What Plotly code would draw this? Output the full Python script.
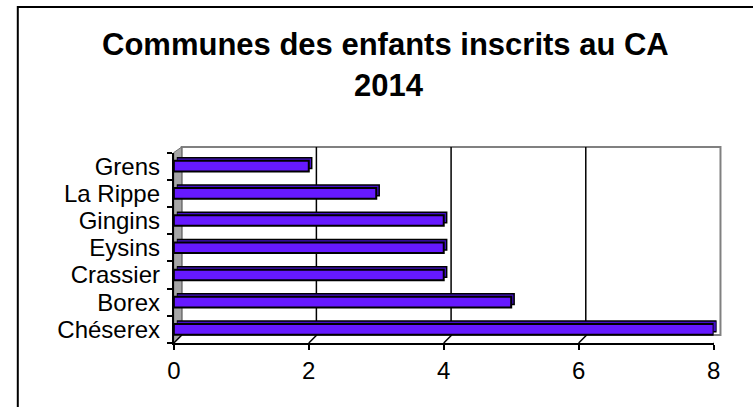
import plotly.graph_objects as go

# ---- data (bottom to top) ----
communes = ["Chéserex", "Borex", "Crassier", "Eysins", "Gingins", "La Rippe", "Grens"]
inscrits = [8, 5, 4, 4, 4, 3, 2]
x_ticks = [0, 2, 4, 6, 8]
grid_vals = [2, 4, 6]
title_line1 = "Communes des enfants inscrits au CA"
title_line2 = "2014"

W, H = 753, 407
FONT = "Arial, 'Liberation Sans', sans-serif"
BAR = "#6619FF"
DEPTH = "#4410C8"


def pxx(x):
    return x / W


def pxy(y):
    return 1 - y / H


# front plane (bars + axes)
FX0, FX1, FYT, FYB = 170, 720, 152.5, 343
# bar depth plane
D = 3
# back wall plane
BX0, BX1, BYT, BYB = 178, 727, 147, 335
BAR_W = 0.39

fig = go.Figure()

# depth faces of bars (offset subplot)
fig.add_trace(go.Bar(
    y=communes, x=inscrits, orientation="h", width=BAR_W,
    marker=dict(color=DEPTH, line=dict(color="black", width=1.5)),
    xaxis="x2", yaxis="y2", hoverinfo="skip", showlegend=False))

# front faces
fig.add_trace(go.Bar(
    y=communes, x=inscrits, orientation="h", width=BAR_W,
    marker=dict(color=BAR, line=dict(color="black", width=2)),
    xaxis="x3", yaxis="y3", showlegend=False))

shapes = []
# outer chart border
shapes.append(dict(type="rect", xref="paper", yref="paper",
                   x0=pxx(11), x1=pxx(W + 10), y0=pxy(7), y1=pxy(H + 10),
                   line=dict(color="black", width=2), layer="below"))
# back wall
shapes.append(dict(type="rect", xref="paper", yref="paper",
                   x0=pxx(BX0), x1=pxx(BX1), y0=pxy(BYT), y1=pxy(BYB),
                   line=dict(color="#808080", width=2), layer="below"))
# back wall grid lines (through the back x axis)
for v in grid_vals:
    shapes.append(dict(type="line", xref="x", yref="paper",
                       x0=v, x1=v, y0=pxy(BYB), y1=pxy(BYT),
                       line=dict(color="black", width=1.5), layer="below"))
# left wall
path = "M {},{} L {},{} L {},{} L {},{} Z".format(
    pxx(FX0), pxy(FYT), pxx(BX0), pxy(BYT), pxx(BX0), pxy(BYB), pxx(FX0), pxy(FYB))
shapes.append(dict(type="path", xref="paper", yref="paper", path=path,
                   fillcolor="#A6A6A6", line=dict(color="#707070", width=1), layer="below"))
# floor diagonals at x ticks
for v in x_ticks:
    shapes.append(dict(type="line", xref="x3", yref="y3",
                       xsizemode="pixel", xanchor=v, x0=0, x1=8,
                       ysizemode="pixel", yanchor=-0.5, y0=0, y1=8,
                       line=dict(color="#808080" if v == 8 else "black", width=1.5)))

annotations = [
    dict(text="<b>" + title_line1 + "</b>", xref="paper", yref="paper",
         x=pxx(386), y=pxy(44), xanchor="center", yanchor="middle", showarrow=False,
         font=dict(family=FONT, size=31, color="black")),
    dict(text="<b>" + title_line2 + "</b>", xref="paper", yref="paper",
         x=pxx(389), y=pxy(86), xanchor="center", yanchor="middle", showarrow=False,
         font=dict(family=FONT, size=31, color="black")),
]

hidden = dict(showline=False, showticklabels=False, ticks="", zeroline=False, showgrid=False)

fig.update_layout(
    width=W, height=H,
    margin=dict(l=0, r=0, t=0, b=0),
    paper_bgcolor="white", plot_bgcolor="rgba(0,0,0,0)",
    barmode="overlay",
    font=dict(family=FONT, color="black"),
    # back wall axes
    xaxis=dict(domain=[pxx(BX0), pxx(BX1)], range=[0, 8], anchor="y", **hidden),
    yaxis=dict(domain=[pxy(BYB), pxy(BYT)], range=[0, 1], anchor="x", **hidden),
    # depth axes
    xaxis2=dict(domain=[pxx(FX0 + D), pxx(FX1 + D)], range=[0, 8], anchor="y2", **hidden),
    yaxis2=dict(domain=[pxy(FYB - D), pxy(FYT - D)], range=[-0.5, 6.5], anchor="x2",
                type="category", categoryorder="array", categoryarray=communes, **hidden),
    # front axes
    xaxis3=dict(domain=[pxx(FX0), pxx(FX1)], range=[0, 8], anchor="y3",
                tickmode="array", tickvals=x_ticks,
                showline=True, linecolor="black", linewidth=2,
                ticks="outside", ticklen=5, tickwidth=2, tickcolor="black",
                showgrid=False, zeroline=False,
                tickfont=dict(family=FONT, size=24, color="black")),
    yaxis3=dict(domain=[pxy(FYB), pxy(FYT)], range=[-0.5, 6.5], anchor="x3",
                type="category", categoryorder="array", categoryarray=communes,
                tickmode="linear", tick0=0, dtick=1,
                tickson="boundaries", ticklabelstandoff=7,
                showline=True, linecolor="black", linewidth=2,
                ticks="outside", ticklen=5, tickwidth=2, tickcolor="black",
                showgrid=False, zeroline=False,
                tickfont=dict(family=FONT, size=24, color="black")),
    shapes=shapes,
    annotations=annotations,
)

fig.write_html("out.html", config={"displayModeBar": False},
               post_script="document.body.style.margin='0';document.body.style.overflow='hidden';")
